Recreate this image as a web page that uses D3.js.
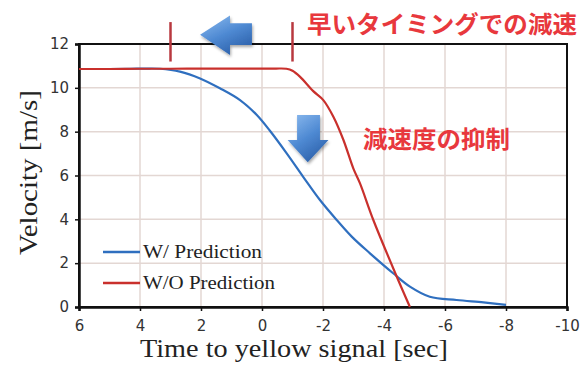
<!DOCTYPE html>
<html>
<head>
<meta charset="utf-8">
<script src="https://cdn.jsdelivr.net/npm/d3@7/dist/d3.min.js"></script>
<style>
  html, body { margin: 0; padding: 0; background: #fff; }
  svg { display: block; }
</style>
</head>
<body>
<svg id="chart" width="588" height="365"></svg>
<script>
// Time to yellow signal [sec] and velocity [m/s] for each run
const timeWith = [6, 5, 4.3, 3.8, 3.34, 2.69, 2.03, 1.38, 0.72, 0.17, -0.26, -0.81, -1.35, -1.9, -2.45, -2.95, -3.54, -4.3, -4.85, -5.5, -6.38, -7.26, -8];
const velWith  = [10.86, 10.86, 10.87, 10.88, 10.87, 10.74, 10.43, 9.98, 9.44, 8.76, 8.04, 7.01, 5.94, 4.88, 3.97, 3.2, 2.45, 1.54, 0.93, 0.47, 0.32, 0.21, 0.1];

const timeWithout = [6, 5, 4, 3, 2, 1, 0, -0.45, -0.8, -1.0, -1.25, -1.68, -2.01, -2.34, -2.67, -3.0, -3.21, -3.65, -4.42, -4.85];
const velWithout  = [10.86, 10.86, 10.87, 10.87, 10.88, 10.88, 10.88, 10.88, 10.87, 10.78, 10.5, 9.85, 9.44, 8.68, 7.62, 6.3, 5.65, 3.97, 1.38, 0];

const xTicks = [6, 4, 2, 0, -2, -4, -6, -8, -10];
const yTicks = [0, 2, 4, 6, 8, 10, 12];

const seriesNames = ["W/ Prediction", "W/O Prediction"];
const seriesColors = ["#2f6fbf", "#c9302c"];

// Markers for the onset of braking on each run
const onsetTimes = [3, -1];

const xLabel = "Time to yellow signal [sec]";
const yLabel = "Velocity [m/s]";
const noteEarly = "早いタイミングでの減速";
const noteDecel = "減速度の抑制";

const svg = d3.select("#chart");
const margin = { left: 79, right: 21, top: 44, bottom: 58 };
const W = 588, H = 365;

const x = d3.scaleLinear().domain([6, -10]).range([margin.left, W - margin.right]);
const y = d3.scaleLinear().domain([0, 12]).range([H - margin.bottom, margin.top]);

// gradient + soft drop shadow for the blue annotation arrows
const defs = svg.append("defs");
const grad = defs.append("linearGradient").attr("id", "arrowGrad")
  .attr("x1", "0").attr("y1", "0").attr("x2", "0.6").attr("y2", "1");
grad.append("stop").attr("offset", "0%").attr("stop-color", "#8fbdf0");
grad.append("stop").attr("offset", "55%").attr("stop-color", "#4f8ad3");
grad.append("stop").attr("offset", "100%").attr("stop-color", "#2e63ad");
const shadow = defs.append("filter").attr("id", "soft").attr("x", "-20%").attr("y", "-20%").attr("width", "150%").attr("height", "150%");
shadow.append("feGaussianBlur").attr("in", "SourceAlpha").attr("stdDeviation", 1.5);
shadow.append("feOffset").attr("dx", 1).attr("dy", 2).attr("result", "off");
shadow.append("feComponentTransfer").append("feFuncA").attr("type", "linear").attr("slope", 0.35);
const merge = shadow.append("feMerge");
merge.append("feMergeNode");
merge.append("feMergeNode").attr("in", "SourceGraphic");

// grid
const grid = svg.append("g");
grid.selectAll("line.v").data(xTicks.slice(1, -1)).join("line")
  .attr("x1", d => x(d)).attr("x2", d => x(d))
  .attr("y1", y(12)).attr("y2", y(0))
  .attr("stroke", "#e3d7d3").attr("stroke-width", 1.5);
grid.selectAll("line.h").data(yTicks.slice(1, -1)).join("line")
  .attr("x1", x(6)).attr("x2", x(-10))
  .attr("y1", d => y(d)).attr("y2", d => y(d))
  .attr("stroke", "#e3d7d3").attr("stroke-width", 1.5);

// frame
svg.append("rect")
  .attr("x", x(6)).attr("y", y(12))
  .attr("width", x(-10) - x(6)).attr("height", y(0) - y(12))
  .attr("fill", "none").attr("stroke", "#111").attr("stroke-width", 2);

// axes
const fmt = d => String(d);
const xAxis = svg.append("g").attr("transform", `translate(0,${y(0)})`)
  .call(d3.axisBottom(x).tickValues(xTicks).tickSize(4).tickPadding(6).tickFormat(fmt));
const yAxis = svg.append("g").attr("transform", `translate(${x(6)},0)`)
  .call(d3.axisLeft(y).tickValues(yTicks).tickSize(4).tickPadding(6).tickFormat(fmt));
[xAxis, yAxis].forEach(g => {
  g.select(".domain").attr("stroke", "#111").attr("stroke-width", 2.5);
  g.selectAll(".tick line").attr("stroke", "#111").attr("stroke-width", 1.5);
  g.selectAll(".tick text")
    .attr("font-family", "'DejaVu Sans', sans-serif")
    .attr("font-size", 15).attr("fill", "#333");
});
xAxis.selectAll(".tick text").attr("dy", "0.9em");

// axis titles
const serif = "'Liberation Serif', 'Times New Roman', serif";
svg.append("text")
  .attr("x", 140).attr("y", 357)
  .attr("font-family", serif)
  .attr("font-size", 26).attr("fill", "#222")
  .attr("textLength", 308).attr("lengthAdjust", "spacingAndGlyphs")
  .text(xLabel);
svg.append("text")
  .attr("transform", `translate(37,255) rotate(-90)`)
  .attr("font-family", serif)
  .attr("font-size", 26).attr("fill", "#222")
  .attr("textLength", 165).attr("lengthAdjust", "spacingAndGlyphs")
  .text(yLabel);

// series lines
const line = d3.line().x(d => x(d[0])).y(d => y(d[1])).curve(d3.curveCatmullRom.alpha(0.5));
const series = [
  d3.zip(timeWith, velWith),
  d3.zip(timeWithout, velWithout)
];
svg.append("path").datum(series[0])
  .attr("d", line).attr("fill", "none")
  .attr("stroke", seriesColors[0]).attr("stroke-width", 2.2);
svg.append("path").datum(series[1])
  .attr("d", line).attr("fill", "none")
  .attr("stroke", seriesColors[1]).attr("stroke-width", 2.2);

// onset markers
svg.selectAll("line.onset").data(onsetTimes).join("line")
  .attr("x1", d => x(d)).attr("x2", d => x(d))
  .attr("y1", y(13.0)).attr("y2", y(11.2))
  .attr("stroke", "#b8383f").attr("stroke-width", 2.5);

// left arrow: earlier braking
const la = [
  [2.03, 12.42], [1.05, 13.3], [1.05, 12.95], [0.33, 12.95],
  [0.33, 11.95], [1.05, 11.95], [1.05, 11.5]
];
svg.append("path")
  .attr("d", "M" + la.map(p => [x(p[0]), y(p[1])].join(",")).join("L") + "Z")
  .attr("fill", "url(#arrowGrad)").attr("filter", "url(#soft)");

// down arrow: reduced deceleration
const da = [
  [-1.15, 8.76], [-1.9, 8.76], [-1.9, 7.62], [-2.18, 7.62],
  [-1.5, 6.6], [-0.84, 7.62], [-1.15, 7.62]
];
svg.append("path")
  .attr("d", "M" + da.map(p => [x(p[0]), y(p[1])].join(",")).join("L") + "Z")
  .attr("fill", "url(#arrowGrad)").attr("filter", "url(#soft)");

// annotations
const cjk = "'Noto Sans CJK JP', sans-serif";
svg.append("text")
  .attr("x", 307).attr("y", 33)
  .attr("font-family", cjk)
  .attr("font-weight", "bold").attr("font-size", 24)
  .attr("textLength", 270).attr("lengthAdjust", "spacingAndGlyphs")
  .attr("fill", "#e8383d").text(noteEarly);
svg.append("text")
  .attr("x", 363).attr("y", 148)
  .attr("font-family", cjk)
  .attr("font-weight", "bold").attr("font-size", 24)
  .attr("textLength", 147).attr("lengthAdjust", "spacingAndGlyphs")
  .attr("fill", "#e8383d").text(noteDecel);

// legend
const legendWidths = [119, 132];
const leg = svg.append("g");
seriesNames.forEach((name, i) => {
  const ly = 252 + i * 31;
  leg.append("line")
    .attr("x1", 103).attr("x2", 140).attr("y1", ly).attr("y2", ly)
    .attr("stroke", seriesColors[i]).attr("stroke-width", 2.5);
  leg.append("text")
    .attr("x", 143).attr("y", ly + 6)
    .attr("font-family", serif)
    .attr("font-size", 18).attr("fill", "#222")
    .attr("textLength", legendWidths[i]).attr("lengthAdjust", "spacingAndGlyphs")
    .text(name);
});
</script>
</body>
</html>
